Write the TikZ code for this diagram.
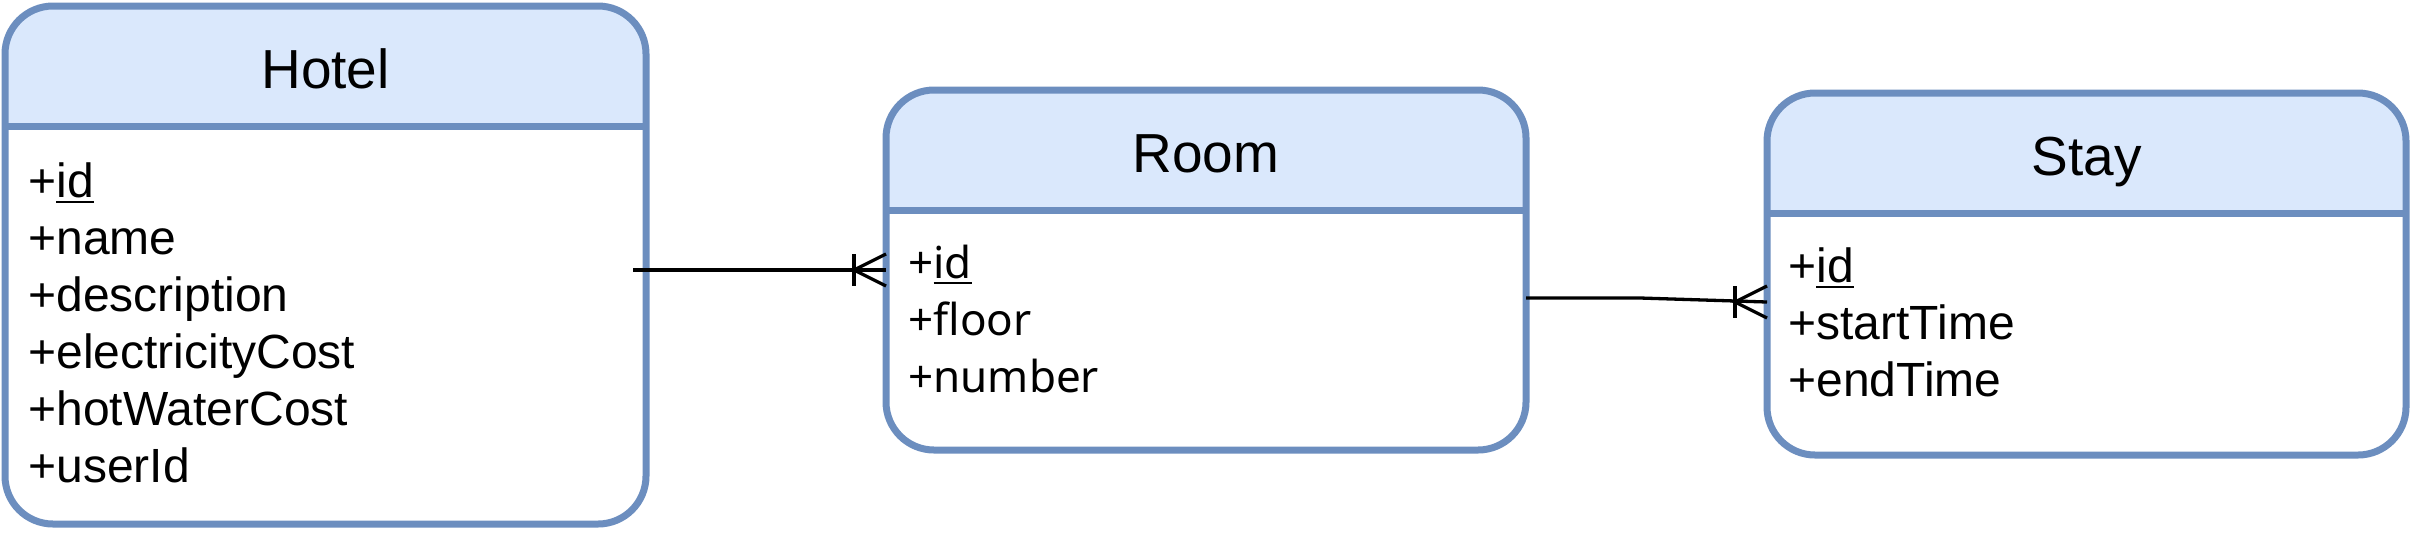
\documentclass[tikz,border=0pt]{standalone}
\usepackage{fontspec}
\setmainfont{Liberation Sans}
\newfontfamily\roomfont{Noto Sans}
\definecolor{entstroke}{HTML}{6C8EBF}
\definecolor{entfill}{HTML}{DAE8FC}
\newcommand\ulid[1]{\setbox0\hbox{#1}\rlap{\rule[-3.2pt]{\wd0}{1.4pt}}\box0}
\begin{document}
\begin{tikzpicture}[x=0.5pt,y=-0.5pt,
  entity/.style={draw=entstroke, line width=3.5pt, rounded corners=24pt, fill=white,
    inner sep=0pt, outer sep=0pt,
    path picture={\fill[entfill, sharp corners] (path picture bounding box.north west) rectangle ([yshift=-60pt]path picture bounding box.north east);}},
  hdrline/.style={draw=entstroke, line width=3.5pt},
  title/.style={anchor=base, font=\fontsize{27.5}{33}\selectfont, inner sep=0pt},
  attr/.style={anchor=base west, font=\fontsize{24}{28.5}\selectfont, inner sep=0pt},
  rattr/.style={anchor=base west, font=\roomfont\fontsize{22}{28.5}\selectfont, inner sep=0pt},
  conn/.style={draw=black, line width=1.65pt}]
\useasboundingbox (0,0) rectangle (2412,532);

% Hotel
\node[entity, minimum width=320.5pt, minimum height=259pt] (hotel) at (325.5,265) {};
\draw[hdrline] ([yshift=-60pt]hotel.north west) -- ([yshift=-60pt]hotel.north east);
\node[title] (hotelT) at (325.5,88) {Hotel};
\node[attr] (h1) at (28,197) {+\ulid{id}};
\node[attr] (h2) at (28,254) {+name};
\node[attr] (h3) at (28,311) {+description};
\node[attr] (h4) at (28,368) {+electricityCost};
\node[attr] (h5) at (28,425) {+hotWaterCost};
\node[attr] (h6) at (28,482) {+userId};

% Room
\node[entity, minimum width=320pt, minimum height=180pt] (room) at (1206,270) {};
\draw[hdrline] ([yshift=-60pt]room.north west) -- ([yshift=-60pt]room.north east);
\node[title] (roomT) at (1206,172) {Room};
\node[rattr] (r1) at (908,278) {+\ulid{id}};
\node[rattr] (r2) at (908,335) {+floor};
\node[rattr] (r3) at (908,392) {+number};

% Stay
\node[entity, minimum width=319.5pt, minimum height=181pt] (stay) at (2086.5,274) {};
\draw[hdrline] ([yshift=-60pt]stay.north west) -- ([yshift=-60pt]stay.north east);
\node[title] (stayT) at (2086.5,175) {Stay};
\node[attr] (s1) at (1788,282) {+\ulid{id}};
\node[attr] (s2) at (1788,339) {+startTime};
\node[attr] (s3) at (1788,396) {+endTime};

% Hotel -- Room
\draw[conn] ([xshift=-6.5pt]room.west -| hotel.east) -- (room.west);
\draw[conn] ([xshift=-16pt,yshift=8pt]room.west) -- ([xshift=-16pt,yshift=-8pt]room.west);
\draw[conn] ([yshift=8pt]room.west) -- ([xshift=-16pt]room.west) -- ([yshift=-8pt]room.west);

% Room -- Stay
\coordinate (c2a) at ([yshift=-14pt]room.east);
\coordinate (c2e) at ([yshift=-14pt]stay.west);
\draw[conn] (c2a) -- ++(57pt,0) -- (c2e);
\draw[conn] ([xshift=-16pt,yshift=8pt]c2e) -- ([xshift=-16pt,yshift=-8pt]c2e);
\draw[conn] ([yshift=8pt]c2e) -- ([xshift=-16pt]c2e) -- ([yshift=-8pt]c2e);
\end{tikzpicture}
\end{document}
